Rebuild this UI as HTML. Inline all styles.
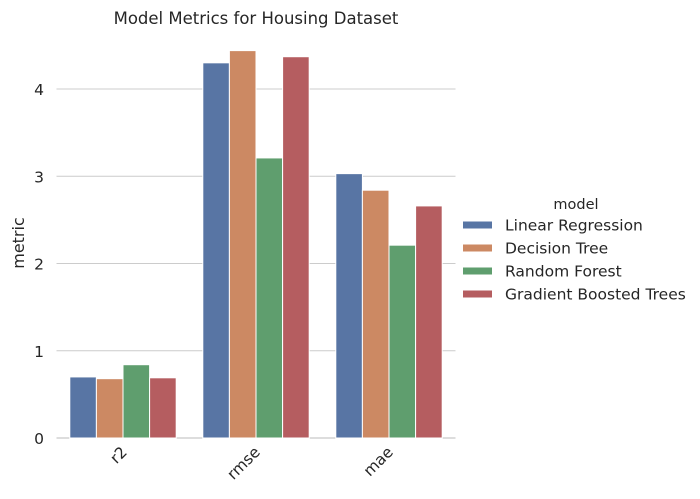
<!DOCTYPE html>
<html><head><meta charset="utf-8"><style>
body{margin:0;background:#fff;}
svg{display:block;font-family:"DejaVu Sans","Liberation Sans",sans-serif;}
</style></head><body>
<svg id="c" width="700" height="499" xmlns="http://www.w3.org/2000/svg">
<text x="256" y="24" text-anchor="middle" font-size="16.5" fill="#262626">Model Metrics for Housing Dataset</text>
<text transform="translate(24,243) rotate(-90)" text-anchor="middle" font-size="16" fill="#262626">metric</text>
<g id="grid"></g><g id="bars"></g><g id="xt"></g>
<g id="legend">
<text x="576" y="209" text-anchor="middle" font-size="14.5" fill="#262626">model</text>
</g>
</svg>
<script>
const categories=["r2","rmse","mae"];
const models=["Linear Regression","Decision Tree","Random Forest","Gradient Boosted Trees"];
const lr=[0.70,4.30,3.03];
const dt=[0.68,4.44,2.84];
const rf=[0.84,3.21,2.21];
const gbt=[0.69,4.37,2.66];
const yTicks=[0,1,2,3,4];
const series=[lr,dt,rf,gbt];
const colors=["#5875a4","#cc8963","#5f9e6e","#b55d60"];
const NS="http://www.w3.org/2000/svg";
const x0=56.5,x1=455.5,yb=438,ppu=87.25;
const y=v=>yb-v*ppu;
const bw=(x1-x0)/categories.length;
function mk(t,a,p){const e=document.createElementNS(NS,t);for(const k in a)e.setAttribute(k,a[k]);p.appendChild(e);return e;}
const grid=document.getElementById('grid');
yTicks.forEach(t=>{
  const l=mk('line',{x1:x0,x2:x1,y1:y(t),y2:y(t),stroke:t===0?'#bbbbbb':'#cccccc','stroke-width':1},grid);
  
  
  const tx=mk('text',{x:44,y:y(t)+6,'text-anchor':'end','font-size':15.5,fill:'#262626'},grid);
  tx.textContent=t;
  
  
});
const bars=document.getElementById('bars');
const w=bw*0.8/4;
categories.forEach((c,i)=>{
  const start=x0+bw*i+bw*0.1;
  series.forEach((s,j)=>{
    const r=mk('rect',{x:start+j*w,y:y(s[i]),width:w,height:s[i]*ppu,fill:colors[j],stroke:'#fff','stroke-width':1},bars);
    
    
  });
  const cx=x0+bw*(i+0.5);
  const t=mk('text',{transform:`translate(${cx+5},${yb+15}) rotate(-45)`,'text-anchor':'end','font-size':15.5,fill:'#262626'},document.getElementById('xt'));
  t.textContent=c;
  
  
});
const lg=document.getElementById('legend');
models.forEach((m,j)=>{
  const yy=225+j*23;
  const r=mk('rect',{x:463,y:yy-3.5,width:29,height:7,fill:colors[j]},lg);
  
  
  const t=mk('text',{x:505,y:yy+5.5,'font-size':15.5,fill:'#262626'},lg);
  t.textContent=m;
  
  
});
</script>
</body></html>
